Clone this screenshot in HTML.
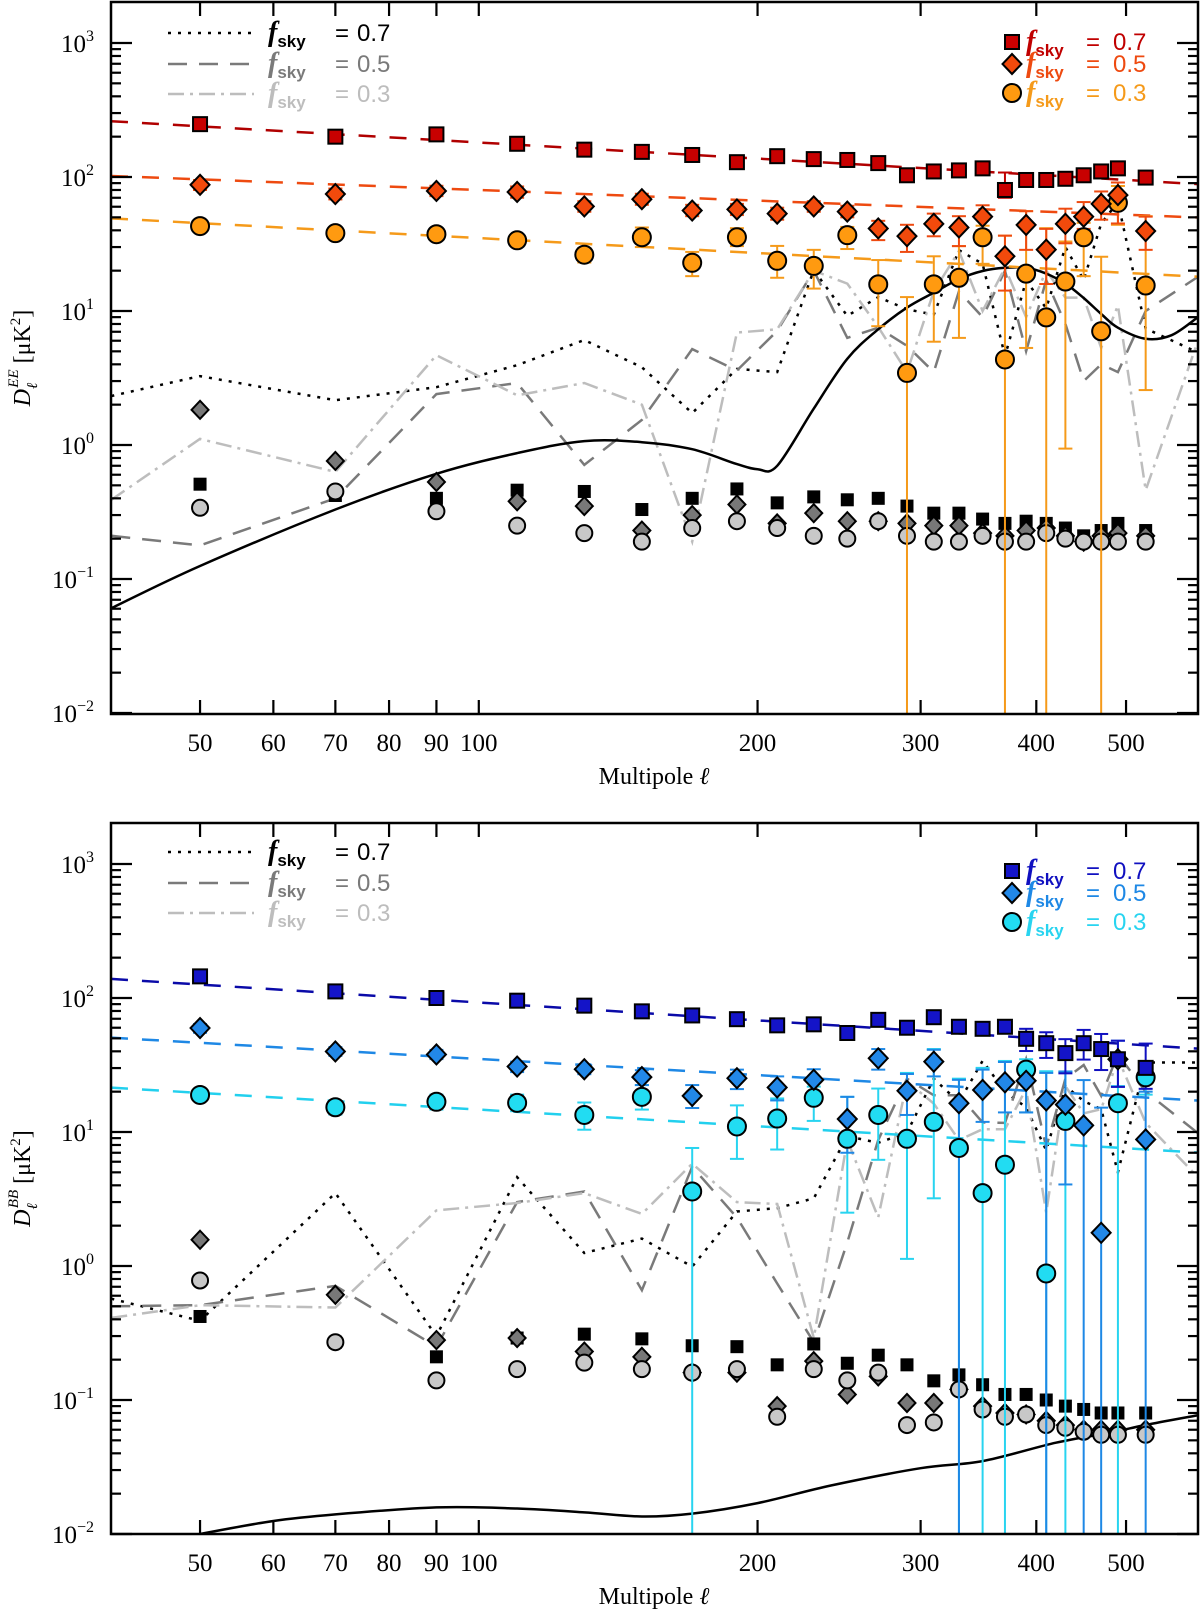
<!DOCTYPE html>
<html><head><meta charset="utf-8"><title>EE and BB power spectra</title>
<style>
html,body{margin:0;padding:0;background:#fff;}
svg{display:block;}
</style></head>
<body>
<svg id="chart" xmlns="http://www.w3.org/2000/svg" width="1200" height="1611" viewBox="0 0 1200 1611"></svg>
<script>
// ---------- shared multipole bins ----------
const ell = [50,70,90,110,130,150,170,190,210,230,250,270,290,310,330,350,370,390,410,430,450,470,490,525];
const lineEll = [40.1,50,70,90,110,130,150,170,190,210,230,250,270,290,310,330,350,370,390,410,430,450,470,490,525,598];
const xTickVals = [50,60,70,80,90,100,200,300,400,500];
const xTickLabels = ['50','60','70','80','90','100','200','300','400','500'];
const yTickExps = [-2,-1,0,1,2,3];

// ---------- EE panel data ----------
const eeSq07 = [248,200,208,177,160,154,146,129,143,136,134,127,103,110,112,116,80,95,95,97,103,110,116,99];
const eeSq07Hi = [265,214,222,190,171,165,156,139,153,146,144,137,112,119,121,125,108,103,103,105,112,120,126,108];
const eeSq07Lo = [232,187,194,165,150,143,136,120,133,126,124,118,95,101,103,107,70,88,88,90,95,101,107,91];
const eeDia05 = [87.5,74.6,78.7,77.3,60.3,68.3,56.2,57.3,53.3,60.3,55.2,41.3,36.2,44.7,42,50.6,25.6,43.9,28.7,44.7,50.6,63,73.3,39.5];
const eeDia05Hi = [95,82,86,85,66,75,62,63,59,66,61,47.1,44,53.3,51,61.5,36.5,55.6,41,58,65,78,91,50.6];
const eeDia05Lo = [80,68,72,70,55,62,51,52,48,55,50,33.8,27.6,36.1,30.5,40,14.2,28.6,15.9,32,41,48,45,28.6];
const eeCirc03 = [43,38.1,37.4,33.7,26.3,35.5,22.9,35.5,23.7,21.7,36.8,15.8,3.45,15.8,17.7,35.5,4.35,19,8.96,16.6,35.5,7.06,64.2,15.5];
const eeCirc03Hi = [46,41,40,36,29.5,42,27.6,41.5,30.6,28.6,42.4,24,12.7,25.6,30.5,43.3,36.5,55.6,41.5,33,45.5,25.4,85.7,51];
const eeCirc03Lo = [40,35,34.5,31,23,30,18.2,30.5,17.7,14.7,29,7.7,0,5.9,6.3,22.5,0,5.3,0,0.94,18.2,0,44,2.57];
const eeNoiseSq = [0.51,0.42,0.40,0.46,0.45,0.33,0.40,0.47,0.37,0.41,0.39,0.40,0.35,0.31,0.31,0.28,0.26,0.27,0.26,0.24,0.21,0.23,0.26,0.23];
const eeNoiseDia = [1.83,0.76,0.53,0.38,0.35,0.23,0.30,0.36,0.26,0.31,0.27,0.27,0.26,0.25,0.25,0.22,0.21,0.23,0.24,0.21,0.19,0.21,0.22,0.21];
const eeNoiseCirc = [0.34,0.45,0.32,0.25,0.22,0.19,0.24,0.27,0.24,0.21,0.20,0.27,0.21,0.19,0.19,0.21,0.19,0.19,0.22,0.20,0.19,0.19,0.19,0.19];
const eeDotted = [2.32,3.27,2.16,2.7,3.94,6.08,3.8,1.73,3.7,3.5,20.2,9.2,12.7,10.3,9.4,28.5,22.5,4.6,16.9,10.5,30,17,45,65,7.4,4.9];
const eeDashed = [0.21,0.178,0.40,2.4,2.9,0.71,1.54,5.2,3.6,7.1,20,6.3,7.5,5.5,3.5,14,9,20,5,17,8,3,4,3.5,10,18];
const eeDashDot = [0.39,1.11,0.63,4.68,2.35,2.9,2.0,0.19,6.9,7.3,20,16,7.6,3.5,14,28,10,21,9,20,12.6,12.6,5.3,11,0.46,6];
const eeTheoryEll = [40,50,70,90,110,130,150,170,190,200,210,230,250,270,290,310,330,350,370,390,410,430,450,470,490,525,560,598];
const eeTheoryVal = [0.06,0.125,0.33,0.61,0.87,1.07,1.05,0.93,0.72,0.66,0.70,1.87,4.4,7.3,10.6,13.7,17.3,19.9,21,21,19,16,12.5,9.5,7.5,6.2,6.6,9];
const eeFitAmp = [181,80,35];
const eeFitSlope = [-0.40,-0.264,-0.371];

// ---------- BB panel data ----------
const bbSq07 = [145,112,100,95.5,87.7,79.5,74.1,69.5,62.5,63.6,54.8,68.7,60,71.9,61,58.9,61,49.6,46,38.8,46,41.6,34.9,30.1];
const bbSq07Hi = [153,118,105,100,92,84,78,73,66,67,58,72,64,76,65,63,66,58.9,55.5,49.3,57.8,53.9,48,45.7];
const bbSq07Lo = [137,106,95,91,83,75,70,66,59,60,51,65,56,68,57,55,56,40.2,35.7,27.4,34.7,29,21.7,21];
const bbDia05 = [59.7,39.9,37.9,30.8,29.4,25.7,18.6,25.2,21.5,24.5,12.5,35.5,20.3,33.5,16.4,20.6,23.5,24.1,17.2,16,11.2,1.77,34.9,8.8];
const bbDia05Hi = [64,43,41,33.5,32,28.9,22.4,29.2,26,29.4,18.3,41.6,27.1,41.1,24.5,29.2,33.3,28.9,27.6,28.3,24.4,15.2,48,20];
const bbDia05Lo = [55,37,35,28,27,22.4,15.1,20.9,17.2,20,7,29.2,13.4,26,0,11.9,14,14,0,4.06,0,0,21.8,0];
const bbCirc03 = [18.9,15.3,16.8,16.5,13.4,18.3,3.6,11,12.6,18,8.9,13.4,8.9,11.9,7.6,3.5,5.7,29.2,0.88,12.1,null,null,16.4,25.6];
const bbCirc03Hi = [21,17,19,19,16.6,22.4,7.6,15.8,17.8,21.8,18.3,21.1,27.6,41.6,25,30.1,33.9,34.9,28.4,28,null,null,22,32];
const bbCirc03Lo = [17,13.5,14.7,14.3,10.4,14.7,0,6.3,7.4,12.1,2.5,6.2,1.13,3.2,0,0,0,14,0,0,null,null,0,19];
const bbNoiseSq = [0.42,0.27,0.21,0.29,0.31,0.286,0.254,0.25,0.183,0.262,0.188,0.216,0.183,0.139,0.154,0.13,0.11,0.11,0.10,0.09,0.085,0.08,0.08,0.08];
const bbNoiseDia = [1.57,0.61,0.28,0.29,0.23,0.21,0.16,0.16,0.09,0.195,0.11,0.15,0.095,0.095,0.12,0.09,0.08,0.078,0.07,0.065,0.06,0.06,0.06,0.06];
const bbNoiseCirc = [0.78,0.27,0.14,0.17,0.19,0.17,0.16,0.17,0.075,0.17,0.14,0.16,0.065,0.068,0.12,0.085,0.075,0.078,0.065,0.062,0.058,0.055,0.055,0.055];
const bbDotted = [0.57,0.39,3.5,0.3,4.6,1.25,1.6,0.99,2.55,2.7,3.2,9.3,8.3,9.9,25,16.7,34,20,15.3,7.3,22,17,14.8,5,33,33];
const bbDashed = [0.5,0.51,0.71,0.25,3.0,3.6,0.66,5.5,2.3,0.74,0.27,1.5,8.7,25,18.8,18.8,11.8,11.7,35,7.7,25,31.6,18.6,38,20,9.8];
const bbDashDot = [0.41,0.51,0.49,2.6,2.95,3.5,2.45,5.8,3.0,2.9,0.29,8.7,2.3,23.8,16.3,8.7,10.5,10.5,21,2.5,22,13.8,14.8,35.6,11.7,4.6];
const bbTheoryEll = [45,50,60,70,90,110,130,150,170,200,240,300,350,420,480,530,598];
const bbTheoryVal = [0.0085,0.0100,0.0125,0.014,0.0158,0.0155,0.0145,0.0135,0.0142,0.017,0.023,0.031,0.035,0.048,0.057,0.066,0.077];
const bbFitAmp = [92.6,35.1,14.7];
const bbFitSlope = [-0.444,-0.40,-0.413];

// ---------- layout ----------
const NS = 'http://www.w3.org/2000/svg';
const svg = document.getElementById('chart');
const X0 = 111, X1 = 1198;
const LMIN = 40.1, LMAX = 598;
function xS(l){ return 478.8 + 926*Math.log10(l/100); }
function mk(tag, attrs, parent){
  const e = document.createElementNS(NS, tag);
  for (const k in attrs) e.setAttribute(k, attrs[k]);
  parent.appendChild(e);
  return e;
}

function drawPanel(P){
  const yS = v => P.y3 + 134*(3 - Math.log10(v));
  const g = mk('g', {}, svg);
  
  

  const clip = mk('clipPath', {id: P.clipId}, g);
  mk('rect', {x: X0, y: P.top, width: X1-X0, height: P.bottom-P.top}, clip);
  const plot = mk('g', {'clip-path': 'url(#'+P.clipId+')'}, g);
  
  

  // noise curves
  const lineDefs = [
    [P.dotted, '#000', '3 7', 'dotted-fsky07-line'],
    [P.dashed, '#7a7a7a', '19 12', 'dashed-fsky05-line'],
    [P.dashdot, '#bdbdbd', '16 6 3 6', 'dashdot-fsky03-line']
  ];
  lineDefs.forEach(d => {
    const pts = lineEll.map((l,i) => xS(l).toFixed(1)+','+yS(d[0][i]).toFixed(1)).join(' ');
    const pl = mk('polyline', {points: pts, fill: 'none', stroke: d[1], 'stroke-width': 2.5, 'stroke-dasharray': d[2]}, plot);
    
    
  });

  // theory curve (Catmull-Rom smoothing)
  const tp = P.thEll.map((l,i) => [xS(l), yS(P.thVal[i])]);
  let dstr = 'M'+tp[0][0]+','+tp[0][1];
  for (let i=0;i<tp.length-1;i++){
    const p0 = tp[Math.max(0,i-1)], p1 = tp[i], p2 = tp[i+1], p3 = tp[Math.min(tp.length-1,i+2)];
    const c1 = [p1[0]+(p2[0]-p0[0])/6, p1[1]+(p2[1]-p0[1])/6];
    const c2 = [p2[0]-(p3[0]-p1[0])/6, p2[1]-(p3[1]-p1[1])/6];
    dstr += ' C'+c1[0].toFixed(1)+','+c1[1].toFixed(1)+' '+c2[0].toFixed(1)+','+c2[1].toFixed(1)+' '+p2[0].toFixed(1)+','+p2[1].toFixed(1);
  }
  const th = mk('path', {d: dstr, fill: 'none', stroke: '#000', 'stroke-width': 2.5}, plot);
  
  

  // gray noise markers
  const gsq = mk('g', {}, plot);
  
  
  const gdi = mk('g', {}, plot);
  
  
  const gci = mk('g', {}, plot);
  
  
  ell.forEach((l,i) => {
    const x = xS(l);
    let y = yS(P.nSq[i]);
    const s = mk('rect', {x: x-6.5, y: y-6.5, width: 13, height: 13, fill: '#000'}, gsq);
    
    
    y = yS(P.nDia[i]);
    const dm = mk('polygon', {points: x+','+(y-9)+' '+(x+8.5)+','+y+' '+x+','+(y+9)+' '+(x-8.5)+','+y, fill: '#787878', stroke: '#000', 'stroke-width': 2}, gdi);
    
    
    y = yS(P.nCirc[i]);
    const c = mk('circle', {cx: x, cy: y, r: 8, fill: '#c8c8c8', stroke: '#000', 'stroke-width': 2}, gci);
    
    
  });

  // fit lines
  P.fitAmp.forEach((A,k) => {
    const f = l => A*Math.pow(l/100, P.fitSlope[k]);
    const fl = mk('line', {x1: X0, y1: yS(f(LMIN)), x2: X1, y2: yS(f(LMAX)), stroke: P.colors[k].line, 'stroke-width': 2.5, 'stroke-dasharray': '17 14'}, plot);
    
    
  });

  // error bars (drawn bottom-series first)
  const series = [
    [P.circ, P.circHi, P.circLo, 2, 'circle'],
    [P.dia, P.diaHi, P.diaLo, 1, 'diamond'],
    [P.sq, P.sqHi, P.sqLo, 0, 'square']
  ];
  series.forEach(s => {
    const eg = mk('g', {stroke: P.colors[s[3]].err, 'stroke-width': 2, fill: 'none'}, plot);
    
    
    ell.forEach((l,i) => {
      if (s[0][i] === null || s[1][i] === null) return;
      const x = xS(l);
      const yh = yS(s[1][i]);
      const yl = s[2][i] > 0 ? yS(s[2][i]) : P.bottom + 5;
      const vl = mk('line', {x1: x, y1: yh, x2: x, y2: yl}, eg);
      
      
      const ch = mk('line', {x1: x-7, y1: yh, x2: x+7, y2: yh}, eg);
      
      
      if (s[2][i] > 0){
        const cl = mk('line', {x1: x-7, y1: yl, x2: x+7, y2: yl}, eg);
        
        
      }
    });
  });

  // main markers
  series.forEach(s => {
    const mg = mk('g', {fill: P.colors[s[3]].fill, stroke: '#000', 'stroke-width': 2}, plot);
    
    
    ell.forEach((l,i) => {
      const v = s[0][i];
      if (v === null) return;
      const x = xS(l), y = yS(v);
      let m;
      if (s[4] === 'square') m = mk('rect', {x: x-7, y: y-7, width: 14, height: 14}, mg);
      else if (s[4] === 'diamond') m = mk('polygon', {points: x+','+(y-10)+' '+(x+9.5)+','+y+' '+x+','+(y+10)+' '+(x-9.5)+','+y}, mg);
      else m = mk('circle', {cx: x, cy: y, r: 9}, mg);
      
      
    });
  });

  // frame
  const fr = mk('rect', {x: X0, y: P.top, width: X1-X0, height: P.bottom-P.top, fill: 'none', stroke: '#000', 'stroke-width': 2.5}, g);
  
  

  // y ticks
  const yt = mk('g', {stroke: '#000', 'stroke-width': 2.2}, g);
  
  
  for (let e=-2; e<=3; e++){
    for (let k=1; k<=9; k++){
      const y = yS(k*Math.pow(10,e));
      if (y < P.top+1 || y > P.bottom) continue;
      const len = k===1 ? 21 : 10;
      const t1 = mk('line', {x1: X0, y1: y, x2: X0+len, y2: y}, yt);
      
      
      const t2 = mk('line', {x1: X1, y1: y, x2: X1-len, y2: y}, yt);
      
      
    }
  }
  yTickExps.forEach(e => {
    const y = yS(Math.pow(10,e));
    const t = mk('text', {x: 94, y: y+9, 'text-anchor': 'end', 'font-family': '"Liberation Serif", serif', 'font-size': 25, fill: '#000'}, g);
    
    
    const a = mk('tspan', {}, t); a.textContent = '10';
    const b = mk('tspan', {dy: -11, 'font-size': 16}, t); b.textContent = e < 0 ? '\u2212'+(-e) : String(e);
  });

  // x ticks
  const xt = mk('g', {stroke: '#000', 'stroke-width': 2.2}, g);
  
  
  xTickVals.forEach((v,i) => {
    const x = xS(v);
    const tb = mk('line', {x1: x, y1: P.bottom, x2: x, y2: P.bottom-14}, xt);
    
    
    const tt = mk('line', {x1: x, y1: P.top, x2: x, y2: P.top+14}, xt);
    
    
    const lb = mk('text', {x: x, y: P.bottom+37, 'text-anchor': 'middle', 'font-family': '"Liberation Serif", serif', 'font-size': 25, fill: '#000'}, g);
    
    
    lb.textContent = xTickLabels[i];
  });

  // axis titles
  const xtitle = mk('text', {x: 654, y: P.bottom+70, 'text-anchor': 'middle', 'font-family': '"Liberation Serif", serif', 'font-size': 24, fill: '#000'}, g);
  
  
  const xa = mk('tspan', {}, xtitle); xa.textContent = 'Multipole ';
  const xb = mk('tspan', {'font-style': 'italic'}, xtitle); xb.textContent = '\u2113';

  const cy = (P.top + P.bottom)/2;
  const ytitle = mk('text', {x: 0, y: 0, transform: 'translate(30,'+cy+') rotate(-90)', 'text-anchor': 'middle', 'font-family': '"Liberation Serif", serif', 'font-size': 24, fill: '#000'}, g);
  
  
  const y1 = mk('tspan', {'font-style': 'italic'}, ytitle); y1.textContent = 'D';
  const y2 = mk('tspan', {'font-style': 'italic', 'font-size': 15, dy: 7}, ytitle); y2.textContent = '\u2113';
  const y3 = mk('tspan', {'font-style': 'italic', 'font-size': 15, dy: -19, dx: -5}, ytitle); y3.textContent = P.spec;
  const y4 = mk('tspan', {dy: 12}, ytitle); y4.textContent = '  [\u03bcK';
  const y5 = mk('tspan', {dy: -10, 'font-size': 15}, ytitle); y5.textContent = '2';
  const y6 = mk('tspan', {dy: 10}, ytitle); y6.textContent = ']';

  // left legend (noise lines)
  const lgL = mk('g', {}, g);
  
  
  const lcol = ['#000','#7a7a7a','#bdbdbd'];
  const ldash = ['3 7','19 12','16 6 3 6'];
  const lval = ['0.7','0.5','0.3'];
  P.legLeftY.forEach((yy,k) => {
    const ln = mk('line', {x1: 168, y1: yy, x2: 254, y2: yy, stroke: lcol[k], 'stroke-width': 2.5, 'stroke-dasharray': ldash[k]}, lgL);
    
    
    const tx = mk('text', {x: 268, y: yy+8, fill: lcol[k], 'font-family': '"Liberation Sans", sans-serif', 'font-size': 24}, lgL);
    
    
    const f = mk('tspan', {'font-family': '"Liberation Serif", serif', 'font-style': 'italic', 'font-weight': 'bold', 'font-size': 28}, tx); f.textContent = 'f';
    const s = mk('tspan', {'font-weight': 'bold', 'font-size': 17, dy: 6}, tx); s.textContent = 'sky';
    const eq = mk('tspan', {x: 335, dy: -6}, tx); eq.textContent = '=';
    const vv = mk('tspan', {x: 357}, tx); vv.textContent = lval[k];
  });

  // right legend (markers)
  const lgR = mk('g', {}, g);
  
  
  const shapes = ['square','diamond','circle'];
  P.legRightY.forEach((yy,k) => {
    const x = 1012;
    let m;
    if (shapes[k]==='square') m = mk('rect', {x: x-7, y: yy-7, width: 14, height: 14}, lgR);
    else if (shapes[k]==='diamond') m = mk('polygon', {points: x+','+(yy-10)+' '+(x+9.5)+','+yy+' '+x+','+(yy+10)+' '+(x-9.5)+','+yy}, lgR);
    else m = mk('circle', {cx: x, cy: yy, r: 9}, lgR);
    m.setAttribute('fill', P.colors[k].fill);
    m.setAttribute('stroke', '#000');
    m.setAttribute('stroke-width', 2);
    
    
    const tx = mk('text', {x: 1026, y: yy+8, fill: P.colors[k].text, 'font-family': '"Liberation Sans", sans-serif', 'font-size': 24}, lgR);
    
    
    const f = mk('tspan', {'font-family': '"Liberation Serif", serif', 'font-style': 'italic', 'font-weight': 'bold', 'font-size': 28}, tx); f.textContent = 'f';
    const s = mk('tspan', {'font-weight': 'bold', 'font-size': 17, dy: 6}, tx); s.textContent = 'sky';
    const eq = mk('tspan', {x: 1086, dy: -6}, tx); eq.textContent = '=';
    const vv = mk('tspan', {x: 1113}, tx); vv.textContent = lval[k];
  });
}

drawPanel({
  name: 'ee-panel', clipId: 'clipEE', spec: 'EE', top: 2, bottom: 714, y3: 43,
  sq: eeSq07, sqHi: eeSq07Hi, sqLo: eeSq07Lo,
  dia: eeDia05, diaHi: eeDia05Hi, diaLo: eeDia05Lo,
  circ: eeCirc03, circHi: eeCirc03Hi, circLo: eeCirc03Lo,
  nSq: eeNoiseSq, nDia: eeNoiseDia, nCirc: eeNoiseCirc,
  dotted: eeDotted, dashed: eeDashed, dashdot: eeDashDot,
  thEll: eeTheoryEll, thVal: eeTheoryVal,
  fitAmp: eeFitAmp, fitSlope: eeFitSlope,
  labels: ['fsky07','fsky05','fsky03'],
  colors: [
    {fill: '#c80000', line: '#b00000', err: '#c00000', text: '#c00000'},
    {fill: '#f24a0c', line: '#ee4a10', err: '#ee4a10', text: '#ee4a10'},
    {fill: '#ff9a10', line: '#f59a1a', err: '#f59a1a', text: '#f59a1a'}
  ],
  legLeftY: [33, 64, 94], legRightY: [42, 64, 93]
});
drawPanel({
  name: 'bb-panel', clipId: 'clipBB', spec: 'BB', top: 823, bottom: 1534, y3: 864,
  sq: bbSq07, sqHi: bbSq07Hi, sqLo: bbSq07Lo,
  dia: bbDia05, diaHi: bbDia05Hi, diaLo: bbDia05Lo,
  circ: bbCirc03, circHi: bbCirc03Hi, circLo: bbCirc03Lo,
  nSq: bbNoiseSq, nDia: bbNoiseDia, nCirc: bbNoiseCirc,
  dotted: bbDotted, dashed: bbDashed, dashdot: bbDashDot,
  thEll: bbTheoryEll, thVal: bbTheoryVal,
  fitAmp: bbFitAmp, fitSlope: bbFitSlope,
  labels: ['fsky07','fsky05','fsky03'],
  colors: [
    {fill: '#1414c8', line: '#0a0aa8', err: '#1010c0', text: '#1010c0'},
    {fill: '#2288e8', line: '#1e88e5', err: '#1e88e5', text: '#1e88e5'},
    {fill: '#22dcf2', line: '#22d0ee', err: '#28d4f0', text: '#28d4f0'}
  ],
  legLeftY: [852, 883, 913], legRightY: [871, 893, 922]
});
</script>
</body></html>
